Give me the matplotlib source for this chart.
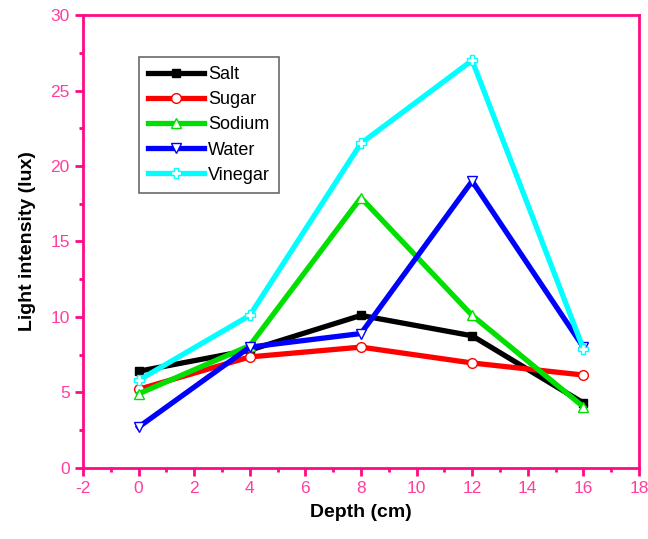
import numpy as np
import matplotlib
matplotlib.use("Agg")
import matplotlib.pyplot as plt
from matplotlib.ticker import MultipleLocator

plt.rcParams['font.family'] = ['Liberation Sans', 'DejaVu Sans']
plt.rcParams['axes.unicode_minus'] = False

depth = [0, 4, 8, 12, 16]
salt = [6.4, 7.8, 10.1, 8.75, 4.3]
sugar = [5.2, 7.35, 8.0, 6.95, 6.15]
sodium = [4.9, 8.1, 17.9, 10.1, 4.05]
water = [2.7, 8.0, 8.9, 19.0, 8.0]
vinegar = [5.8, 10.1, 21.5, 27.0, 7.9]

PINK = '#FF0A84'
TICK_PINK = '#FF3E9E'

fig = plt.figure(figsize=(6.48, 5.39), dpi=100)
ax = fig.add_axes([0.128, 0.132, 0.858, 0.840])

series = [
    ('Salt', salt, 'black', 's', 'black'),
    ('Sugar', sugar, 'red', 'o', 'white'),
    ('Sodium', sodium, '#00E000', '^', 'white'),
    ('Water', water, '#0000FF', 'v', 'white'),
    ('Vinegar', vinegar, '#00FFFF', 'P', 'white'),
]
for name, vals, col, mk, fc in series:
    ax.plot(depth, vals, color=col, lw=3.8, marker=mk,
            markersize=6 if mk == 's' else 7,
            markerfacecolor=fc, markeredgecolor=col, markeredgewidth=1.0,
            label=name)

ax.set_xlim(-2, 18)
ax.set_ylim(0, 30)
ax.xaxis.set_major_locator(MultipleLocator(2))
ax.xaxis.set_minor_locator(MultipleLocator(1))
ax.yaxis.set_major_locator(MultipleLocator(5))
ax.yaxis.set_minor_locator(MultipleLocator(2.5))

for s in ax.spines.values():
    s.set_color(PINK)
    s.set_linewidth(2)
ax.tick_params(which='both', direction='out', color=PINK, width=2,
               labelcolor=TICK_PINK, labelsize=12.5, top=False, right=False)
ax.tick_params(which='major', length=6)
ax.tick_params(which='minor', length=3)

ax.set_xlabel('Depth (cm)', fontsize=14, fontweight='bold', labelpad=6)
ax.set_ylabel('Light intensity (lux)', fontsize=14, fontweight='bold', labelpad=10)

leg = ax.legend(loc='upper left', bbox_to_anchor=(0.1, 0.907), fontsize=13,
                frameon=True, fancybox=False, edgecolor='#444444',
                handlelength=3.1, handletextpad=0.25, labelspacing=0.45,
                borderpad=0.5, borderaxespad=0)
leg.get_frame().set_linewidth(1.2)

fig.savefig('out.png', dpi=100)
